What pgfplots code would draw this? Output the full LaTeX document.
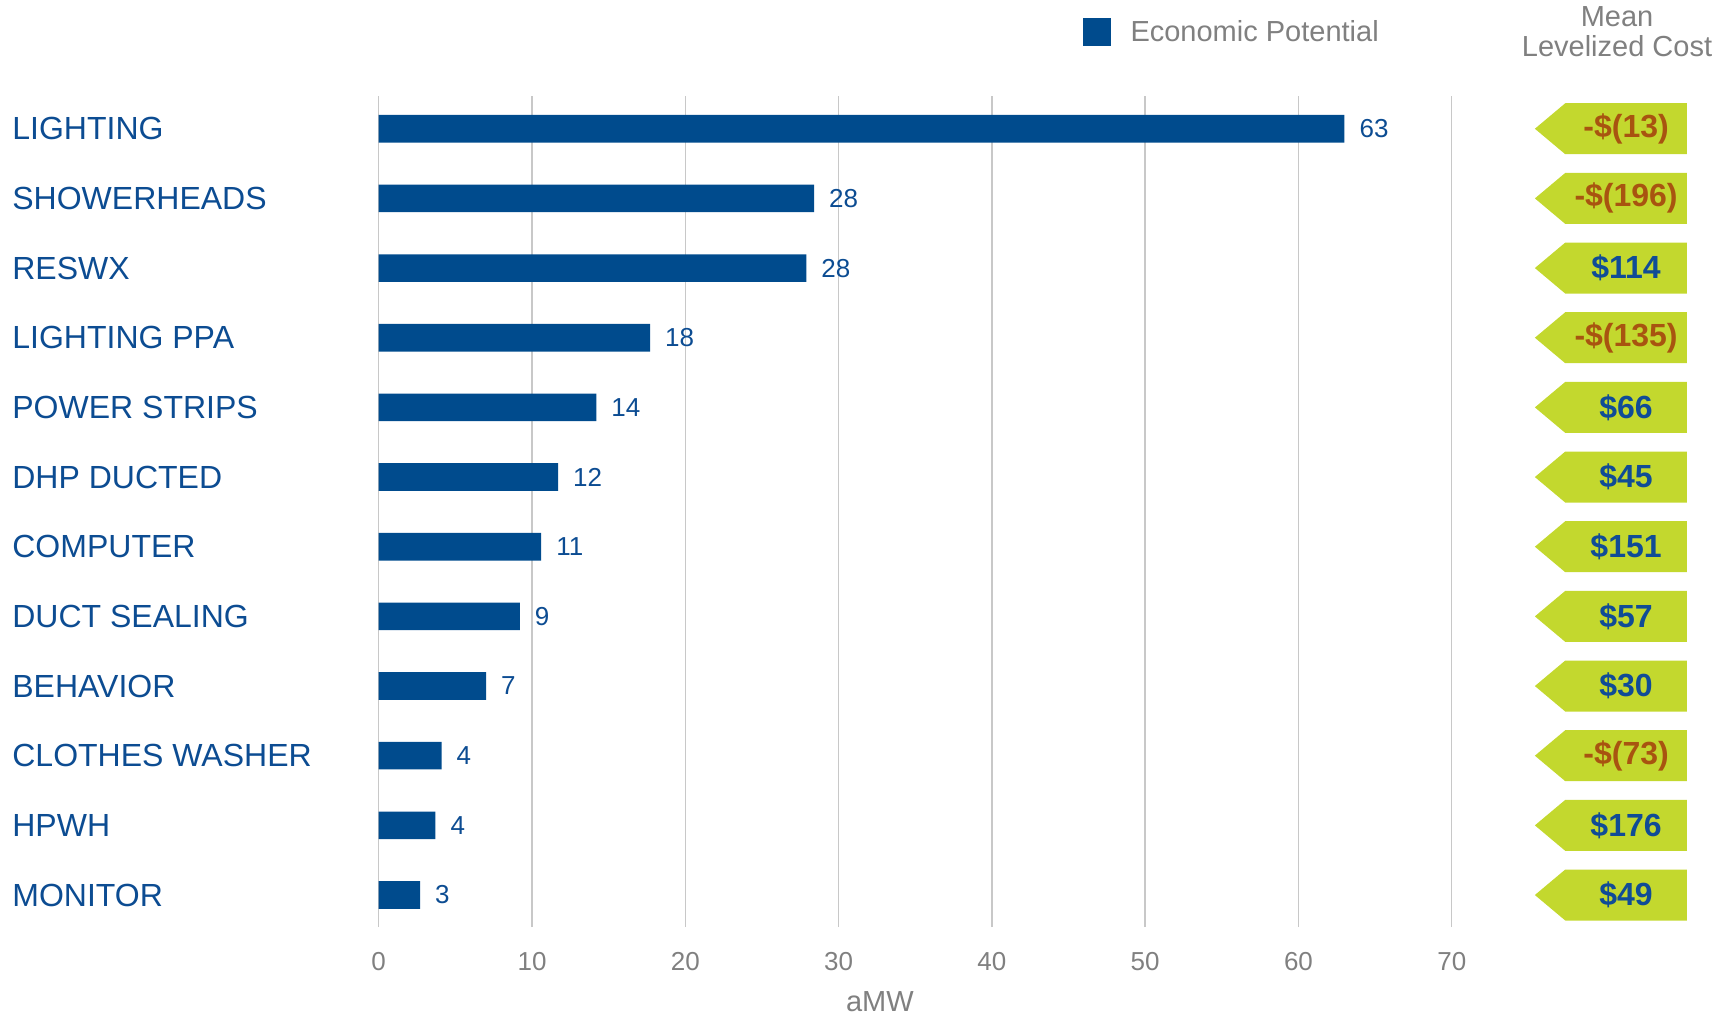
\documentclass[border=0pt]{standalone}
\usepackage{pgfplots}
\pgfplotsset{compat=1.18}
\usetikzlibrary{shapes.symbols}
\usepackage{fontspec}
\setmainfont{Liberation Sans}
\definecolor{barblue}{RGB}{0,75,141}
\definecolor{catblue}{RGB}{12,76,146}
\definecolor{txtgray}{RGB}{128,128,128}
\definecolor{gridgray}{RGB}{200,200,200}
\definecolor{taggreen}{RGB}{195,216,46}
\definecolor{negbrown}{RGB}{168,84,16}
\definecolor{posblue}{RGB}{16,76,150}
\tikzset{tag/.style={shape=signal, signal to=west, signal pointer angle=80, fill=taggreen, draw=none,
  minimum width=76pt, minimum height=25.5pt, inner sep=0pt, anchor=center,
  font=\fontsize{16}{18}\selectfont\bfseries}}
\begin{document}
\begin{tikzpicture}
\begin{axis}[
  name=ax, scale only axis, width=536.5pt, height=415.5pt,
  xmin=0, xmax=70, ymin=-0.46, ymax=11.47,
  axis line style={draw=none}, major tick length=0pt,
  xmajorgrids, grid style={color=gridgray, line width=0.7pt},
  xtick={0,10,...,70},
  ytick={0,...,11},
  yticklabels={MONITOR,HPWH,CLOTHES WASHER,BEHAVIOR,DUCT SEALING,COMPUTER,DHP DUCTED,POWER STRIPS,LIGHTING PPA,RESWX,SHOWERHEADS,LIGHTING},
  yticklabel style={anchor=west, xshift=-183.35pt, inner sep=0pt, font=\fontsize{16}{19}\selectfont, text=catblue},
  xticklabel style={font=\fontsize{13}{15}\selectfont, text=txtgray, yshift=-9pt},
  /pgf/number format/assume math mode=true,
  xlabel={aMW},
  xlabel style={at={(axis description cs:0.467,0)}, anchor=center, yshift=-37.5pt, font=\fontsize{14.5}{16}\selectfont, text=txtgray},
  clip=false,
  legend style={at={(axis description cs:0.6555,1.077)}, anchor=west, draw=none, fill=none, inner sep=0pt,
    font=\fontsize{14.5}{16}\selectfont, text=txtgray},
  legend image code/.code={\fill[#1] (0pt,-7pt) rectangle (14pt,7pt); \path (22pt,0pt);},
]
\addplot[xbar, bar width=13.8pt, fill=barblue, draw=none,
  nodes near coords={\pgfmathprintnumber[fixed,precision=0]{\pgfplotspointmeta}},
  point meta=x,
  nodes near coords style={anchor=west, xshift=4pt, text=catblue, font=\fontsize{13}{15}\selectfont}]
coordinates {(63,11) (28.4,10) (27.9,9) (17.7,8) (14.2,7) (11.7,6) (10.6,5) (9.2,4) (7.0,3) (4.1,2) (3.7,1) (2.7,0)};
\addlegendentry{Economic Potential}
\addplot[draw=none, forget plot, nodes near coords, point meta=explicit symbolic,
  nodes near coords style={tag, text=negbrown}]
coordinates {(81.37,11) [-\$(13)] (81.37,10) [-\$(196)] (81.37,8) [-\$(135)] (81.37,2) [-\$(73)]};
\addplot[draw=none, forget plot, nodes near coords, point meta=explicit symbolic,
  nodes near coords style={tag, text=posblue}]
coordinates {(81.37,9) [\$114] (81.37,7) [\$66] (81.37,6) [\$45] (81.37,5) [\$151] (81.37,4) [\$57] (81.37,3) [\$30] (81.37,1) [\$176] (81.37,0) [\$49]};
\node[align=center, text=txtgray, font=\fontsize{14.5}{15}\selectfont] at (axis description cs:1.154,1.077) {Mean\\Levelized Cost};
\end{axis}
\pgfresetboundingbox
\path ([shift={(-189.35pt,-45.5pt)}]ax.south west) rectangle ([shift={(139.6pt,48pt)}]ax.north east);
\end{tikzpicture}
\end{document}
